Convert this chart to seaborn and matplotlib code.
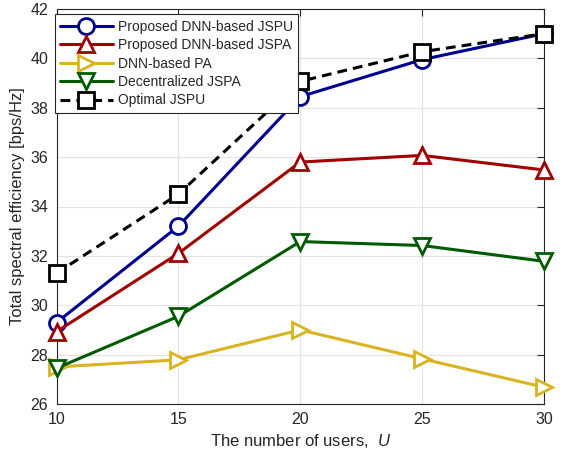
import matplotlib
matplotlib.use("Agg")
import matplotlib.pyplot as plt
import seaborn as sns
import pandas as pd

users = [10, 15, 20, 25, 30]
dnn_jspu = [29.3, 33.2, 38.45, 39.95, 41.0]
dnn_jspa = [28.93, 32.1, 35.8, 36.07, 35.48]
dnn_pa = [27.5, 27.79, 29.0, 27.83, 26.68]
decentral_jspa = [27.45, 29.55, 32.58, 32.42, 31.78]
optimal_jspu = [31.3, 34.5, 39.07, 40.27, 41.0]

series_names = ["Proposed DNN-based JSPU", "Proposed DNN-based JSPA", "DNN-based PA",
                "Decentralized JSPA", "Optimal JSPU"]
series_values = [dnn_jspu, dnn_jspa, dnn_pa, decentral_jspa, optimal_jspu]
colors = ["#00008f", "#a00000", "#d9b320", "#005a00", "#000000"]
markers = ["o", "^", ">", "v", "s"]
styles = ["-", "-", "-", "-", (0, (3.2, 2.0))]

sns.set_style("white")
plt.rcParams["font.family"] = ["Liberation Sans", "DejaVu Sans"]
plt.rcParams["mathtext.fontset"] = "custom"
plt.rcParams["mathtext.it"] = "Liberation Sans:italic"
plt.rcParams["mathtext.rm"] = "Liberation Sans"

fig = plt.figure(figsize=(5.68, 4.53), dpi=100)
ax = fig.add_axes([56.5 / 568, 1 - 404 / 453, (544 - 56.5) / 568, (404 - 9) / 453])

for name, vals, c, m, ls in zip(series_names, series_values, colors, markers, styles):
    df = pd.DataFrame({"U": users, "SE": vals})
    sns.lineplot(data=df, x="U", y="SE", ax=ax, color=c, marker=m, linestyle=ls,
                 linewidth=2.2, markersize=11.5, markerfacecolor="white",
                 markeredgecolor=c, markeredgewidth=2.0, label=name, clip_on=False,
                 zorder=3)

ax.set_xlim(10, 30)
ax.set_ylim(26, 42)
ax.set_xticks([10, 15, 20, 25, 30])
ax.set_yticks(range(26, 43, 2))
ax.grid(True, color="#e3e3e3", linewidth=0.8)
ax.set_axisbelow(True)
for sp in ax.spines.values():
    sp.set_visible(True)
    sp.set_color("#262626")
    sp.set_linewidth(0.8)
ax.tick_params(direction="in", length=5, width=0.8, top=True, right=True,
               labelsize=11.5, colors="#262626", pad=6)
ax.set_xlabel("The number of users,  $U$", fontsize=12, color="#262626", labelpad=3)
ax.set_ylabel("Total spectral efficiency [bps/Hz]", fontsize=12, color="#262626", labelpad=4)

leg = ax.legend(loc="upper left", bbox_to_anchor=(-0.004, 0.987), fontsize=10,
                handlelength=3.8, handletextpad=0.35, borderpad=0.4, labelspacing=0.32,
                borderaxespad=0.0, frameon=True, fancybox=False, framealpha=1)
leg.get_frame().set_edgecolor("#262626")
leg.get_frame().set_linewidth(0.8)

fig.savefig("out.png", dpi=100)
